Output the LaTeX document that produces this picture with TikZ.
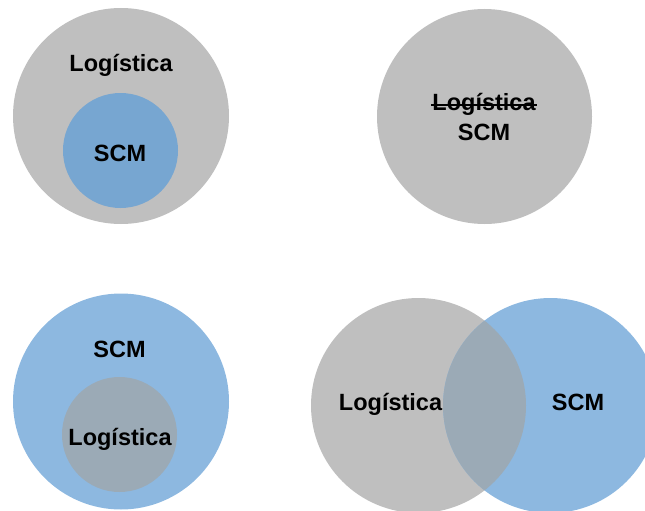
\documentclass[tikz,border=0pt]{standalone}
\usepackage{fontspec}
\setmainfont{Liberation Sans}
\definecolor{cgray}{HTML}{BFBFBF}
\definecolor{cblue}{HTML}{8DB8E0}
\definecolor{cbluedark}{HTML}{77A6D1}
\definecolor{cmix}{HTML}{9BAAB6}
\tikzset{
  disc/.style={circle, inner sep=0pt, draw=none, minimum size=#1},
  lbl/.style={anchor=base, inner sep=0pt, font=\fontsize{23.5}{28}\selectfont\bfseries, text=black},
}
\begin{document}
\begin{tikzpicture}[x=1pt, y=-1pt]
\useasboundingbox (0,0) rectangle (645,511);
\clip (0,0) rectangle (645,511);
% top-left
\node[disc=216pt, fill=cgray] (tlouter) at (121,116) {};
\node[disc=115pt, fill=cbluedark] (tlinner) at (120.5,150.5) {};
\node[lbl] (tllog) at (121,71.7) {Logística};
\node[lbl] (tlscm) at (120,161.7) {SCM};
% top-right
\node[disc=215pt, fill=cgray] (trc) at (484.5,116.5) {};
\node[lbl] (trlog) at (484,110.7) {Logística};
\draw[line width=1.5pt] ([xshift=-1pt]trlog.west |- 0,104.8) -- ([xshift=1pt]trlog.east |- 0,104.8);
\node[lbl] (trscm) at (484,140) {SCM};
% bottom-left
\node[disc=216pt, fill=cblue] (blouter) at (121,401.5) {};
\node[disc=115pt, fill=cmix] (blinner) at (119.5,434.5) {};
\node[lbl] (blscm) at (119.5,357) {SCM};
\node[lbl] (bllog) at (120,445) {Logística};
% bottom-right
\node[disc=215pt, fill=cgray] (brg) at (418.5,405.5) {};
\node[disc=215pt, fill=cblue] (brb) at (550.5,405.5) {};
\begin{scope}
  \clip (418.5,405.5) circle (107.5);
  \fill[cmix] (550.5,405.5) circle (107.5);
\end{scope}
\node[lbl] (brlog) at (390.5,410.7) {Logística};
\node[lbl] (brscm) at (578,410.5) {SCM};
\end{tikzpicture}
\end{document}
